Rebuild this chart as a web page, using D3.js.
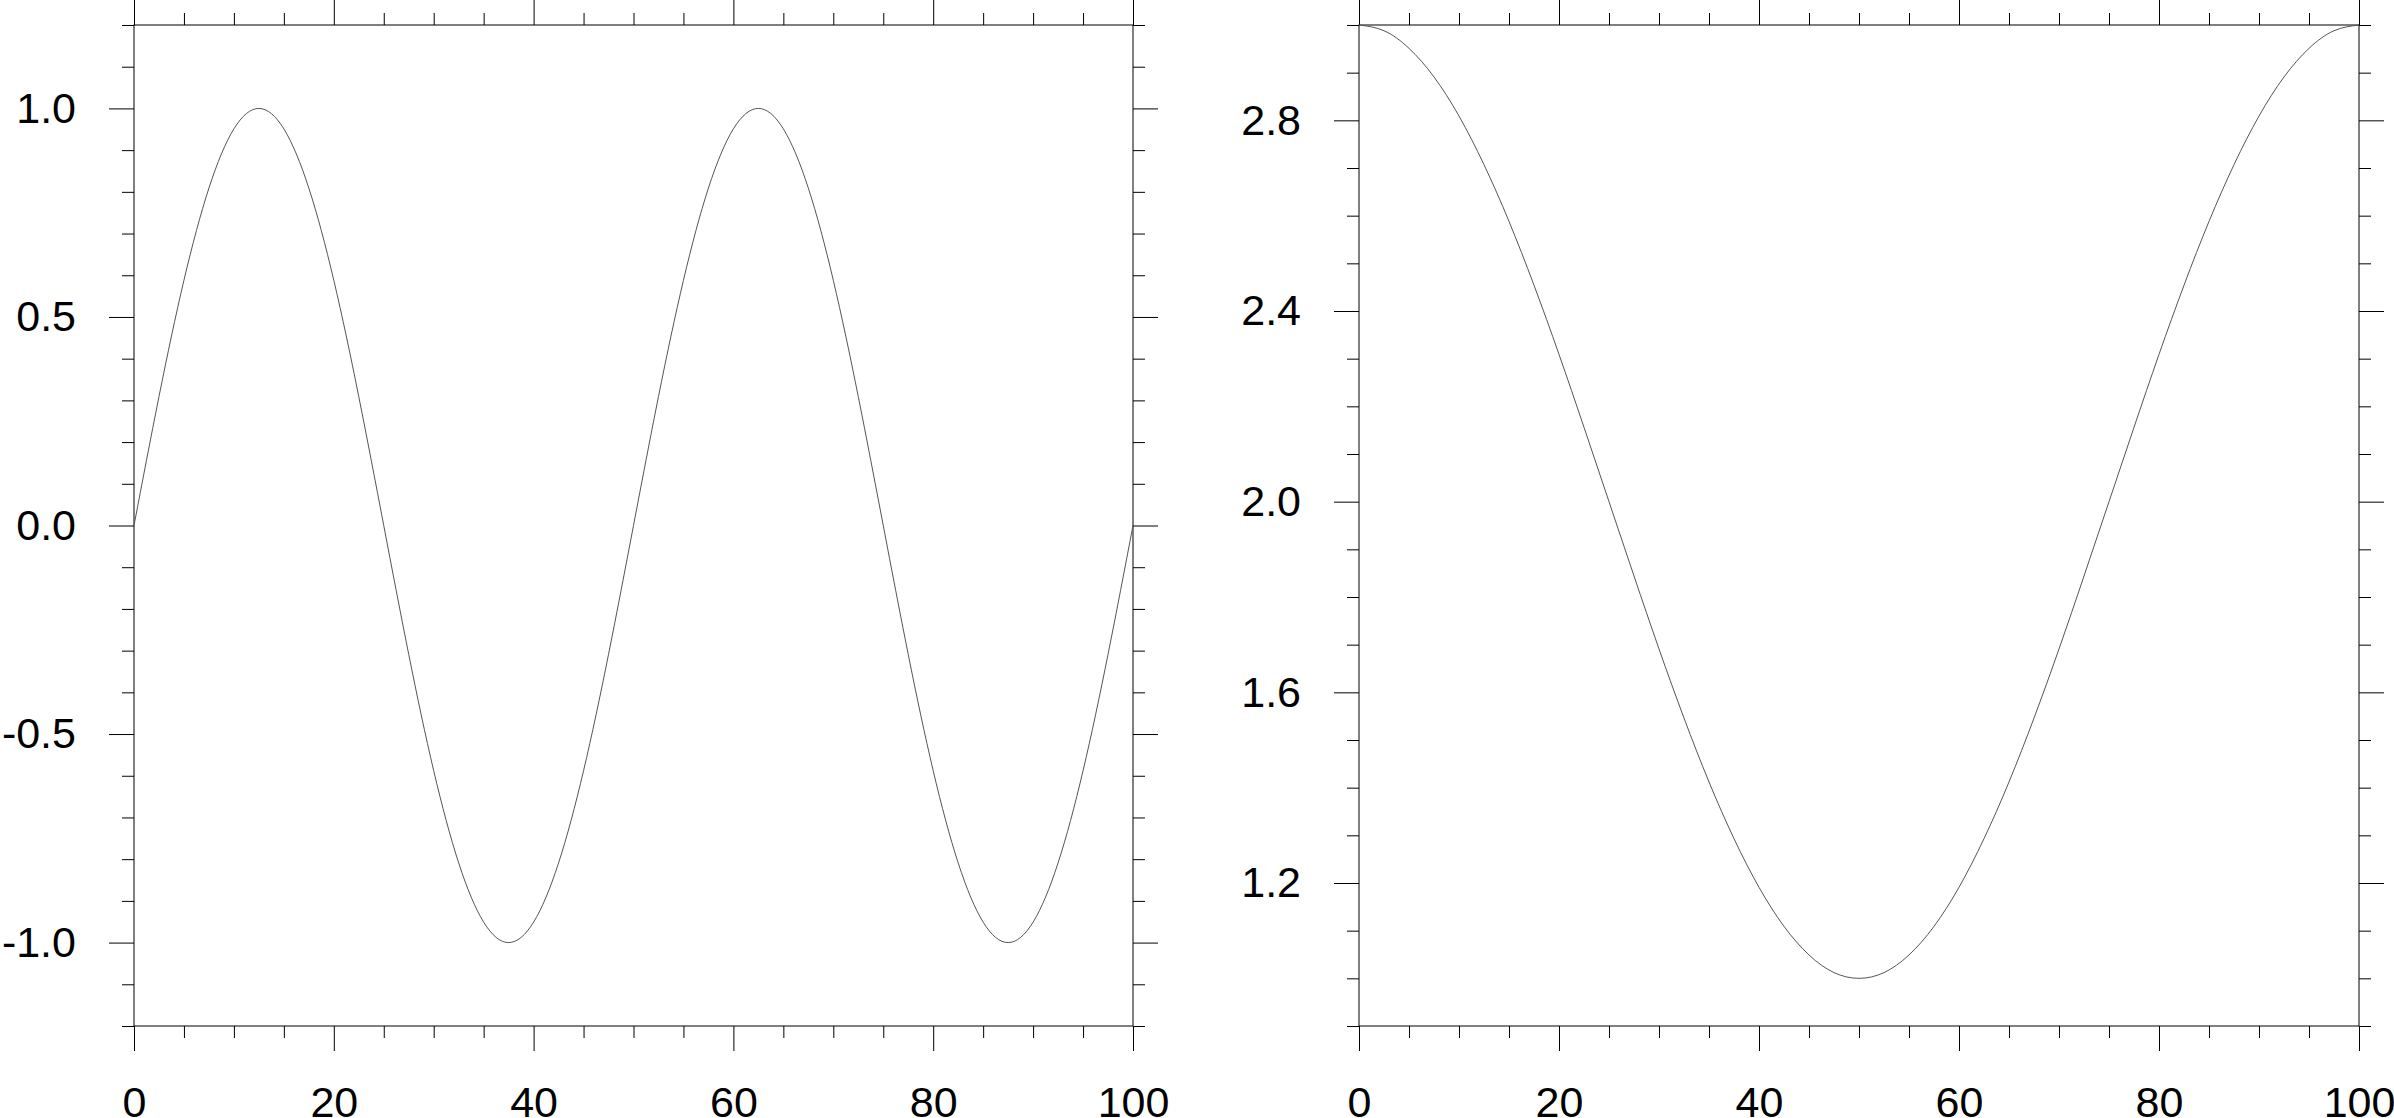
<!DOCTYPE html>
<html>
<head>
<meta charset="utf-8">
<script src="https://cdn.jsdelivr.net/npm/d3@7"></script>
<style>
  html, body { margin: 0; padding: 0; background: #fff; }
  svg text { font-family: "Liberation Sans", Arial, Helvetica, sans-serif; }
</style>
</head>
<body>
<svg id="chart" width="2394" height="1118"></svg>
<script>
(function () {
    'use strict';

    // x positions shared by both panels
    var xValues = [0, 2.5, 5, 7.5, 10, 12.5, 15, 17.5, 20, 22.5, 25, 27.5, 30, 32.5, 35, 37.5, 40,
        42.5, 45, 47.5, 50, 52.5, 55, 57.5, 60, 62.5, 65, 67.5, 70, 72.5, 75, 77.5, 80, 82.5, 85,
        87.5, 90, 92.5, 95, 97.5, 100];

    // left panel: two full waves
    var leftValues = [0, 0.309, 0.588, 0.809, 0.951, 1, 0.951, 0.809, 0.588, 0.309, 0, -0.309,
        -0.588, -0.809, -0.951, -1, -0.951, -0.809, -0.588, -0.309, 0, 0.309, 0.588, 0.809, 0.951,
        1, 0.951, 0.809, 0.588, 0.309, 0, -0.309, -0.588, -0.809, -0.951, -1, -0.951, -0.809,
        -0.588, -0.309, 0];

    // right panel: one trough
    var rightValues = [3, 2.988, 2.951, 2.891, 2.809, 2.707, 2.588, 2.454, 2.309, 2.156, 2,
        1.844, 1.691, 1.546, 1.412, 1.293, 1.191, 1.109, 1.049, 1.012, 1, 1.012, 1.049, 1.109,
        1.191, 1.293, 1.412, 1.546, 1.691, 1.844, 2, 2.156, 2.309, 2.454, 2.588, 2.707, 2.809,
        2.891, 2.951, 2.988, 3];

    var xTickLabels = ['0', '20', '40', '60', '80', '100'];
    var leftTickLabels = ['-1.0', '-0.5', '0.0', '0.5', '1.0'];
    var rightTickLabels = ['1.2', '1.6', '2.0', '2.4', '2.8'];

    var svg = d3.select('#chart');

    var panels = [
        { x0: 134, x1: 1133, y0: 25, y1: 1026, yDomain: [-1.2, 1.2], values: leftValues,
          labels: leftTickLabels },
        { x0: 1359, x1: 2359, y0: 25, y1: 1026, yDomain: [0.9, 3.0], values: rightValues,
          labels: rightTickLabels }
    ];

    var majorLen = 25, minorLen = 12;

    function styleAxis(g) {
        g.select('.domain').remove();
        g.selectAll('.tick line').attr('stroke', '#000').attr('stroke-width', 1);
        g.selectAll('.tick text')
            .attr('fill', '#000')
            .style('font-size', '43px');
    }

    panels.forEach(function (p) {
        var x = d3.scaleLinear().domain([0, 100]).range([p.x0, p.x1]);
        var y = d3.scaleLinear().domain(p.yDomain).range([p.y1, p.y0]);

        var xMajor = xTickLabels.map(Number);
        var xMinor = d3.range(0, 100.001, 5).filter(function (v) { return v % 20 !== 0; });
        var yMajor = p.labels.map(Number);
        var yMinor = d3.range(Math.round(p.yDomain[0] * 10), Math.round(p.yDomain[1] * 10) + 1)
            .map(function (v) { return v / 10; })
            .filter(function (v) {
                return !yMajor.some(function (m) { return Math.abs(m - v) < 1e-6; });
            });

        var fmtX = function (d) { return xTickLabels[xMajor.indexOf(d)]; };
        var fmtY = function (d) { return p.labels[yMajor.indexOf(d)]; };

        // bottom
        svg.append('g').attr('transform', 'translate(0,' + p.y1 + ')')
            .call(d3.axisBottom(x).tickValues(xMinor).tickSize(minorLen).tickFormat(''))
            .call(styleAxis);
        svg.append('g').attr('transform', 'translate(0,' + p.y1 + ')')
            .call(d3.axisBottom(x).tickValues(xMajor).tickSize(majorLen).tickPadding(35).tickFormat(fmtX))
            .call(styleAxis);
        // top
        svg.append('g').attr('transform', 'translate(0,' + p.y0 + ')')
            .call(d3.axisTop(x).tickValues(xMinor).tickSize(minorLen).tickFormat(''))
            .call(styleAxis);
        svg.append('g').attr('transform', 'translate(0,' + p.y0 + ')')
            .call(d3.axisTop(x).tickValues(xMajor).tickSize(majorLen).tickFormat(''))
            .call(styleAxis);
        // left
        svg.append('g').attr('transform', 'translate(' + p.x0 + ',0)')
            .call(d3.axisLeft(y).tickValues(yMinor).tickSize(minorLen).tickFormat(''))
            .call(styleAxis);
        svg.append('g').attr('transform', 'translate(' + p.x0 + ',0)')
            .call(d3.axisLeft(y).tickValues(yMajor).tickSize(majorLen).tickPadding(33).tickFormat(fmtY))
            .call(styleAxis);
        // right
        svg.append('g').attr('transform', 'translate(' + p.x1 + ',0)')
            .call(d3.axisRight(y).tickValues(yMinor).tickSize(minorLen).tickFormat(''))
            .call(styleAxis);
        svg.append('g').attr('transform', 'translate(' + p.x1 + ',0)')
            .call(d3.axisRight(y).tickValues(yMajor).tickSize(majorLen).tickFormat(''))
            .call(styleAxis);

        // frame
        svg.append('rect')
            .attr('x', p.x0).attr('y', p.y0)
            .attr('width', p.x1 - p.x0).attr('height', p.y1 - p.y0)
            .attr('fill', 'none').attr('stroke', '#000').attr('stroke-width', 1);

        var line = d3.line()
            .x(function (d, i) { return x(xValues[i]); })
            .y(function (d) { return y(d); })
            .curve(d3.curveNatural);

        svg.append('path')
            .datum(p.values)
            .attr('d', line)
            .attr('fill', 'none')
            .attr('stroke', '#555')
            .attr('stroke-width', 1);
    });
}());
</script>
</body>
</html>
